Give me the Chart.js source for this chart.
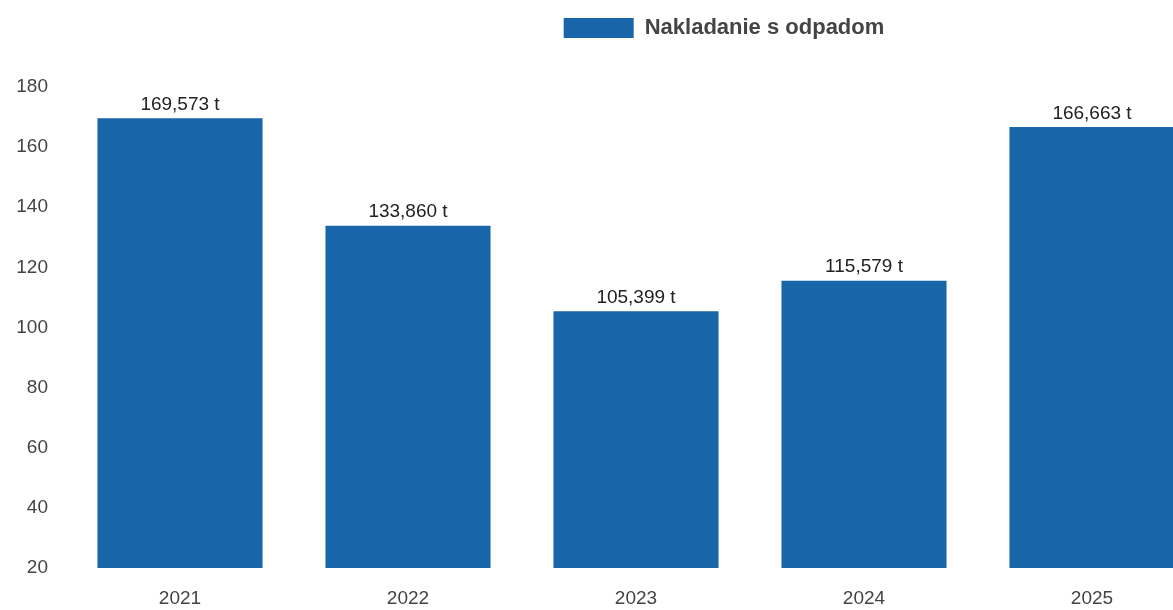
<!DOCTYPE html>
<html>
<head>
<meta charset="utf-8">
<script src="https://cdn.jsdelivr.net/npm/chart.js@4"></script>
<style>
  html, body { margin: 0; padding: 0; background: #fff; overflow: hidden; }
  #wrap { width: 1448px; height: 610px; }
</style>
</head>
<body>
<div id="wrap"><canvas id="odpadChart" width="1448" height="610"></canvas></div>
<script>
// data
const years = ["2021", "2022", "2023", "2024", "2025"];
const odpadValues = [169.573, 133.860, 105.399, 115.579, 166.663];
const seriesName = "Nakladanie s odpadom";
const yTicks = [20, 40, 60, 80, 100, 120, 140, 160, 180];

const barColor = '#1866a9';

// popisky nad stlpcami
const valueLabels = {
    id: 'valueLabels',
    afterDatasetsDraw(chart) {
        const ctx = chart.ctx;
        const meta = chart.getDatasetMeta(0);
        ctx.save();
        ctx.font = '19px "Liberation Sans", Arial, sans-serif';
        ctx.fillStyle = '#222';
        ctx.textAlign = 'center';
        ctx.textBaseline = 'bottom';
        meta.data.forEach((bar, i) => {
            const txt = odpadValues[i].toFixed(3).replace('.', ',') + ' t';
            ctx.fillText(txt, bar.x, bar.y - 4);
        });
        ctx.restore();
    }
};

// medzera pod legendou
const legendSpace = {
    id: 'legendSpace',
    beforeInit(chart) {
        const origFit = chart.legend.fit;
        chart.legend.fit = function () {
            origFit.bind(chart.legend)();
            this.height += 38;
        };
    }
};

const ctx = document.getElementById('odpadChart').getContext('2d');
new Chart(ctx, {
    type: 'bar',
    data: {
        labels: years,
        datasets: [{
            label: seriesName,
            data: odpadValues,
            backgroundColor: barColor,
            borderWidth: 0,
            barPercentage: 0.724,
            categoryPercentage: 1
        }]
    },
    options: {
        responsive: false,
        animation: false,
        layout: { padding: 0 },
        plugins: {
            legend: {
                position: 'top',
                labels: {
                    boxWidth: 70,
                    boxHeight: 20,
                    padding: 17,
                    color: '#444',
                    font: { family: '"Liberation Sans", Arial, sans-serif', size: 22, weight: 'bold' }
                }
            },
            tooltip: { enabled: false }
        },
        scales: {
            x: {
                grid: { display: false, drawTicks: false },
                border: { display: false },
                ticks: {
                    color: '#444',
                    padding: 19,
                    font: { family: '"Liberation Sans", Arial, sans-serif', size: 19 }
                },
                afterFit: s => { s.height = 42; }
            },
            y: {
                min: 20,
                max: 180,
                grid: { display: false, drawTicks: false },
                border: { display: false },
                ticks: {
                    stepSize: 20,
                    color: '#444',
                    padding: 18,
                    font: { family: '"Liberation Sans", Arial, sans-serif', size: 19 }
                },
                afterBuildTicks: s => { s.ticks = yTicks.map(v => ({ value: v })); },
                afterFit: s => { s.width = 66; }
            },
            y2: {
                position: 'right',
                grid: { display: false, drawTicks: false },
                border: { display: false },
                ticks: { display: false },
                afterFit: s => { s.width = 242; }
            }
        }
    },
    plugins: [valueLabels, legendSpace]
});
</script>
</body>
</html>
